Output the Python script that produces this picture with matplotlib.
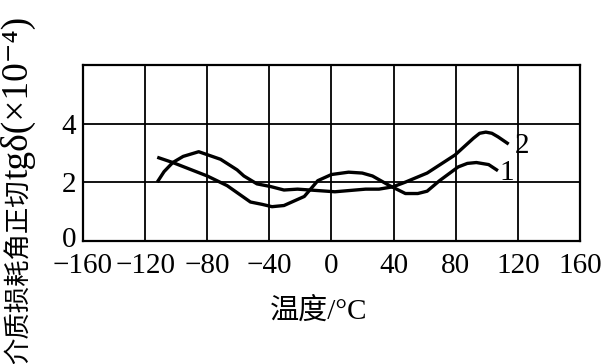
import numpy as np
import matplotlib
matplotlib.use("Agg")
import matplotlib.pyplot as plt
import matplotlib.transforms as mtransforms

plt.rcParams['font.family'] = ['Liberation Serif', 'Noto Sans CJK SC', 'DejaVu Serif']

# curve 1
t1 = [-112.2, -102.2, -80.0, -67.2, -52.2, -44.7, -38.3, -30.6, -17.5, -8.8,
      0.0, 11.0, 19.8, 26.4, 37.4, 47.6, 55.6, 61.6, 69.6, 81.6,
      87.5, 93.3, 101.2, 107.2]
d1 = [2.85, 2.67, 2.21, 1.88, 1.32, 1.24, 1.16, 1.20, 1.51, 2.05,
      2.26, 2.34, 2.31, 2.21, 1.88, 1.61, 1.61, 1.69, 2.05, 2.52,
      2.64, 2.67, 2.60, 2.39]

# curve 2
t2 = [-112.2, -107.8, -102.2, -95.5, -85.5, -71.4, -60.8, -56.4, -48.0, -39.3,
      -30.6, -21.9, 2.2, 22.0, 30.6, 39.6, 47.6, 61.6, 79.6, 91.4,
      95.4, 99.4, 103.3, 107.2, 114.1]
d2 = [2.00, 2.36, 2.67, 2.88, 3.04, 2.78, 2.42, 2.21, 1.94, 1.85,
      1.73, 1.76, 1.67, 1.76, 1.76, 1.84, 2.00, 2.31, 2.93, 3.50,
      3.67, 3.71, 3.67, 3.55, 3.30]

xticks = [-160, -120, -80, -40, 0, 40, 80, 120, 160]
yticks = [0, 2, 4]

fig = plt.figure(figsize=(6.06, 3.64), dpi=100)
ax = fig.add_axes([0.137, 0.339, 0.820, 0.482])

ax.plot(t1, d1, color='black', lw=2.4, solid_joinstyle='round', solid_capstyle='butt')
ax.plot(t2, d2, color='black', lw=2.4, solid_joinstyle='round', solid_capstyle='butt')

ax.text(113, 2.31, '1', fontsize=21, ha='center', va='center')
ax.text(122.5, 3.24, '2', fontsize=21, ha='center', va='center')

ax.set_xlim(-160, 160)
ax.set_ylim(0, 6)
ax.set_xticks(xticks)
ax.set_yticks(yticks)
ax.set_xticklabels([f'\u2212{abs(v)}' if v < 0 else str(v) for v in xticks])
ax.tick_params(length=0, labelsize=21)
ax.tick_params(axis='x', pad=9)
ax.tick_params(axis='y', pad=5)
# lift the "0" a little, as in the original
lbl0 = ax.get_yticklabels()[0]
lbl0.set_transform(lbl0.get_transform() +
                   mtransforms.ScaledTranslation(0, 4 / 100, fig.dpi_scale_trans))

for v in xticks[1:-1]:
    ax.axvline(v, color='black', lw=1.3)
for v in [2, 4]:
    ax.axhline(v, color='black', lw=1.3)
for s in ax.spines.values():
    s.set_linewidth(1.6)

fig.text(0.525, 0.145, '温度/°C', fontsize=21, ha='center', va='center')

# y label: CJK part then the Latin part, stacked from the bottom edge
ylab1 = fig.text(0.03, 0.0, '介质损耗角正切', rotation=90, fontsize=19,
                 ha='center', va='bottom')
fig.canvas.draw()
bb = ylab1.get_window_extent().transformed(fig.transFigure.inverted())
fig.text(0.03, bb.y1, 'tgδ(×10⁻⁴)', rotation=90, fontsize=27,
         ha='center', va='bottom')

fig.savefig('out.png', dpi=100)
